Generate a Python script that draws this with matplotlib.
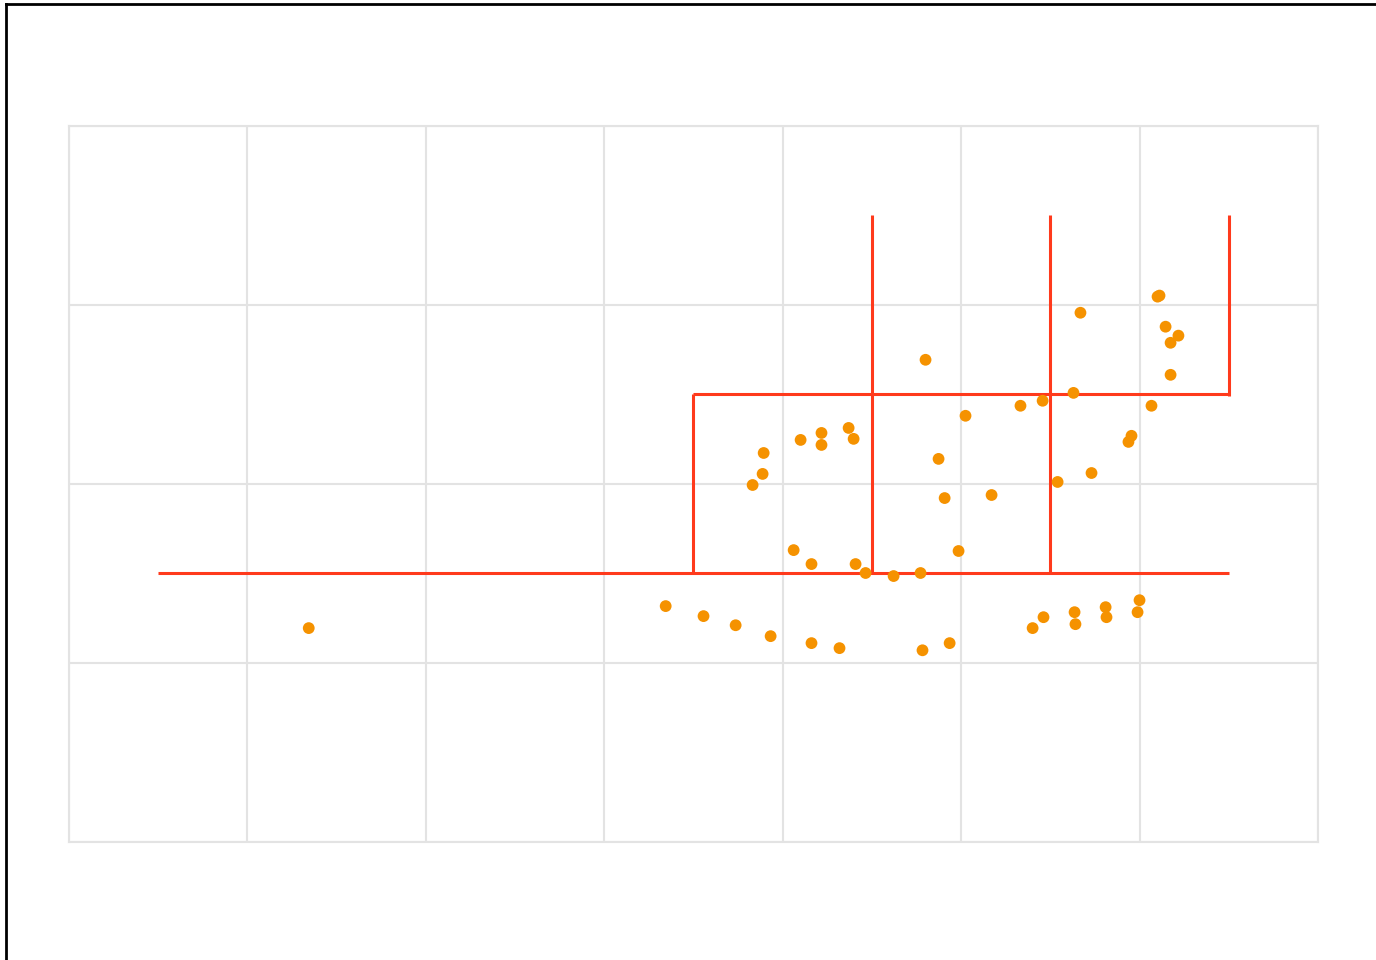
import matplotlib
matplotlib.use("Agg")
import matplotlib.pyplot as plt
from matplotlib.lines import Line2D

# Scatter points
px = [1.345, 3.345, 3.557, 3.737, 3.933, 4.162, 4.319, 4.784, 4.936, 5.401,
      5.462, 5.641, 5.636, 5.810, 5.815, 5.989, 6.000,
      4.062, 4.162, 4.409, 4.465, 4.622, 4.773, 4.986,
      3.832, 3.888, 3.894, 4.101, 4.218, 4.218, 4.370, 4.398,
      4.874, 4.908, 5.025, 5.171, 4.801, 5.333, 5.457, 5.630,
      5.541, 5.731, 5.938, 5.955, 6.067, 6.174, 6.174, 6.146, 6.218,
      6.101, 6.112, 5.669]
py = [1.193, 1.316, 1.260, 1.209, 1.148, 1.109, 1.081, 1.069, 1.109, 1.193,
      1.254, 1.215, 1.282, 1.310, 1.254, 1.282, 1.349,
      1.629, 1.551, 1.551, 1.501, 1.484, 1.501, 1.624,
      1.993, 2.055, 2.172, 2.245, 2.217, 2.284, 2.312, 2.251,
      2.139, 1.920, 2.380, 1.937, 2.693, 2.436, 2.464, 2.508,
      2.010, 2.060, 2.234, 2.268, 2.436, 2.609, 2.788, 2.878, 2.828,
      3.046, 3.052, 2.956]

# Red step segments (x0, y0, x1, y1)
seg_x0 = [0.5, 3.5, 3.5, 4.5, 5.5, 6.5]
seg_y0 = [1.5, 1.5, 2.5, 1.5, 1.5, 2.49]
seg_x1 = [6.5, 3.5, 6.5, 4.5, 5.5, 6.5]
seg_y1 = [1.5, 2.5, 2.5, 3.5, 3.5, 3.5]

fig = plt.figure(figsize=(13.76, 9.6), dpi=100)
ax = fig.add_axes([68.7/1376, 118.5/960, 1249.3/1376, 715.5/960])
ax.set_xlim(0, 7)
ax.set_ylim(0, 4)
ax.set_xticks(range(0, 8))
ax.set_yticks(range(0, 5))
ax.grid(True, color="#e3e3e3", linewidth=1.5)
ax.tick_params(length=0, labelbottom=False, labelleft=False)
for s in ax.spines.values():
    s.set_color("#e3e3e3")
    s.set_linewidth(1.5)
ax.set_axisbelow(True)

for a, b, c, d in zip(seg_x0, seg_y0, seg_x1, seg_y1):
    ax.plot([a, c], [b, d], color="#ff3a1c", linewidth=2.2, zorder=2, solid_capstyle="butt")

ax.scatter(px, py, s=72, color="#f59200", edgecolors="none", zorder=3)

# outer black frame (top and left)
fig.add_artist(Line2D([6/1376, 1], [1 - 4/960, 1 - 4/960], transform=fig.transFigure,
                      color="black", linewidth=2))
fig.add_artist(Line2D([6/1376, 6/1376], [0, 1 - 4/960], transform=fig.transFigure,
                      color="black", linewidth=2))

fig.savefig("out.png", dpi=100)
